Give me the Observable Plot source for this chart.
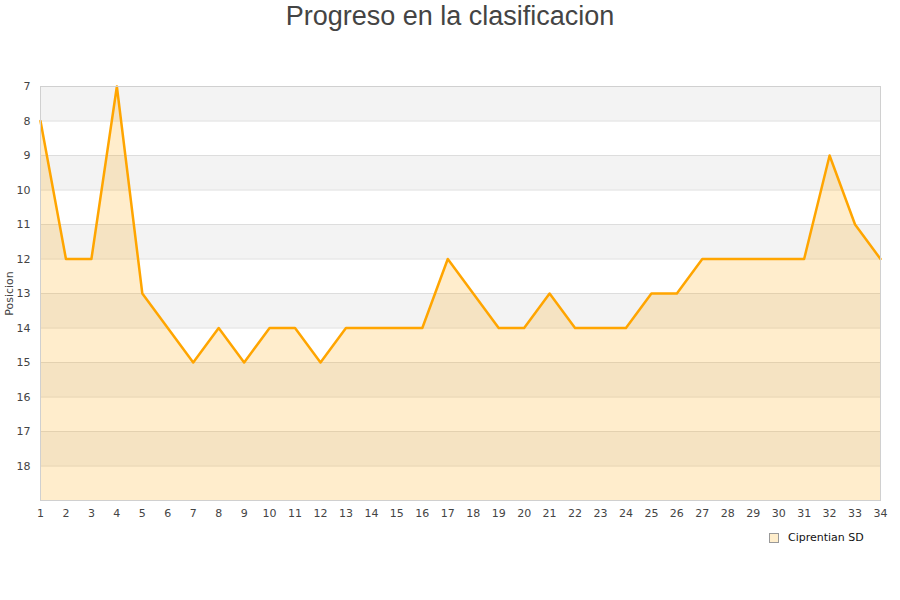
<!DOCTYPE html>
<html>
<head>
<meta charset="utf-8">
<script src="https://cdn.jsdelivr.net/npm/d3@7"></script>
<script src="https://cdn.jsdelivr.net/npm/@observablehq/plot@0.6"></script>
<style>
  html, body { margin: 0; padding: 0; background: #fff; }
  body { width: 900px; height: 600px; position: relative; overflow: hidden; }
  #title { position: absolute; left: 0; top: 0; width: 900px; text-align: center;
    font-family: "Liberation Sans", Arial, sans-serif; font-size: 27px; color: #444; line-height: 32px; }
  #chart { position: absolute; left: 0; top: 40px; }
  #legend { position: absolute; left: 769px; top: 531px; font-family: "DejaVu Sans", sans-serif;
    font-size: 11px; color: #111; display: flex; align-items: center; }
  #legend .sw { width: 8px; height: 8px; background: #ffeecc; border: 1px solid #999; margin-right: 9px; }
</style>
</head>
<body>
<div id="title">Progreso en la clasificacion</div>
<div id="chart"></div>
<div id="legend"><span class="sw"></span><span>Ciprentian SD</span></div>
<script>
const rounds = [1,2,3,4,5,6,7,8,9,10,11,12,13,14,15,16,17,18,19,20,21,22,23,24,25,26,27,28,29,30,31,32,33,34];
const positions = [8,12,12,7,13,14,15,14,15,14,14,15,14,14,14,14,12,13,14,14,13,14,14,14,13,13,12,12,12,12,12,9,11,12];
const yTicks = [7,8,9,10,11,12,13,14,15,16,17,18];
const yDomain = [7,19];
const seriesName = "Ciprentian SD";

const data = rounds.map((r, i) => ({round: r, pos: positions[i], base: yDomain[1]}));
const xMin = rounds[0], xMax = rounds[rounds.length - 1];
const bands = yTicks.map((t, i) => ({x1: xMin, x2: xMax, y1: t, y2: t + 1, grey: i % 2 === 0}));
const gridLines = yTicks.concat([yDomain[1]]);

const plot = Plot.plot({
  width: 900,
  height: 520,
  marginLeft: 40,
  marginRight: 20,
  marginTop: 46,
  marginBottom: 60,
  style: {fontFamily: "DejaVu Sans, sans-serif", fontSize: "11px", color: "#444", background: "#fff"},
  x: {domain: [xMin, xMax]},
  y: {domain: yDomain, reverse: true},
  marks: [
    Plot.rect(bands.filter(b => b.grey), {x1: "x1", x2: "x2", y1: "y1", y2: "y2", fill: "#f3f3f3"}),
    Plot.ruleY(gridLines, {stroke: "#dddddd", strokeWidth: 1}),
    Plot.areaY(data, {x: "round", y1: "base", y2: "pos", fill: "#ffa500", fillOpacity: 0.2}),
    Plot.line(data, {x: "round", y: "pos", stroke: "#ffa500", strokeWidth: 2.5, strokeLinejoin: "round"}),
    Plot.frame({stroke: "#d0d0d0", strokeWidth: 1}),
    Plot.axisX({ticks: rounds, tickSize: 0, tickPadding: 9, tickFormat: d => String(d), label: null}),
    Plot.axisY({ticks: yTicks, tickSize: 0, tickPadding: 10, tickFormat: d => String(d), label: "Posicion",
      labelAnchor: "center", labelArrow: "none", labelOffset: 35})
  ]
});
document.getElementById("chart").appendChild(plot);
</script>
</body>
</html>
